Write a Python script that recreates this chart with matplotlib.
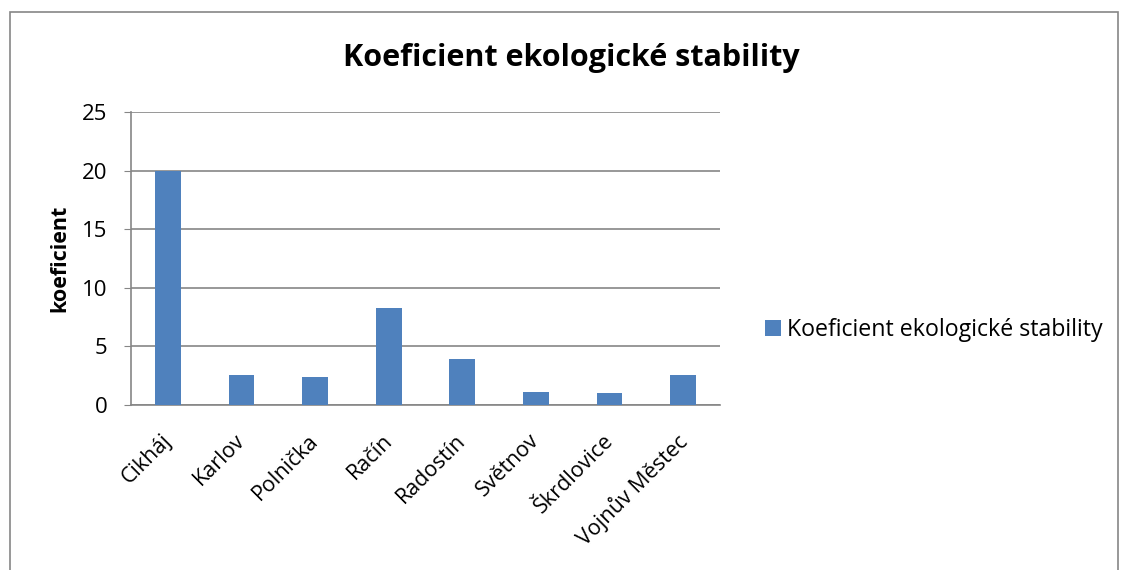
import matplotlib.pyplot as plt
import matplotlib.transforms as mtransforms
from matplotlib.patches import Rectangle

# data
obce = ['Cikháj', 'Karlov', 'Polnička', 'Račín', 'Radostín',
        'Světnov', 'Škrdlovice', 'Vojnův Městec']
koeficient = [20.0, 2.56, 2.42, 8.25, 3.9, 1.11, 1.0, 2.56]
yticks = [0, 5, 10, 15, 20, 25]

plt.rcParams['font.family'] = ['Open Sans', 'DejaVu Sans']

fig = plt.figure(figsize=(11.21, 5.70), dpi=100)
ax = fig.add_axes([131 / 1121, 1 - 405 / 570, (720 - 131) / 1121, (405 - 112) / 570])

ax.bar(range(len(obce)), koeficient, width=0.35, color='#4f81bd',
       label='Koeficient ekologické stability', zorder=3)

ax.set_xlim(-0.5, len(obce) - 0.5)
ax.set_ylim(0, 25)
ax.set_yticks(yticks)
ax.set_xticks(range(len(obce)))
ax.set_xticklabels(obce, rotation=45, ha='right', rotation_mode='anchor', fontsize=15.5)
ax.tick_params(axis='y', labelsize=16, length=5, color='#868686', pad=12)
ax.tick_params(axis='x', length=0, pad=18)
shift = mtransforms.ScaledTranslation(-7 / 100, 0, fig.dpi_scale_trans)
for lbl in ax.get_xticklabels():
    lbl.set_transform(lbl.get_transform() + shift)
ax.grid(axis='y', color='#868686', linewidth=1.2, zorder=0)

for s in ['top', 'right']:
    ax.spines[s].set_visible(False)
for s in ['left', 'bottom']:
    ax.spines[s].set_color('#868686')
    ax.spines[s].set_linewidth(1.2)

ax.set_ylabel('koeficient', fontsize=15.5, fontweight='bold', labelpad=8)
fig.text(571 / 1121, 1 - 58 / 570, 'Koeficient ekologické stability',
         fontsize=22, fontweight='bold', ha='center', va='center')

ax.legend(loc='center left', bbox_to_anchor=(1 + 45 / 589, 75 / 293), frameon=False,
          fontsize=16.7, handlelength=0.7, handleheight=0.7, handletextpad=0.25,
          borderaxespad=0, borderpad=0)

# chart area border
fig.patches.append(Rectangle((10 / 1121, -0.05), 1108 / 1121, 1 - 12 / 570 + 0.05,
                             transform=fig.transFigure, fill=False,
                             edgecolor='#868686', linewidth=1.2))

fig.savefig('out.png', dpi=100)
